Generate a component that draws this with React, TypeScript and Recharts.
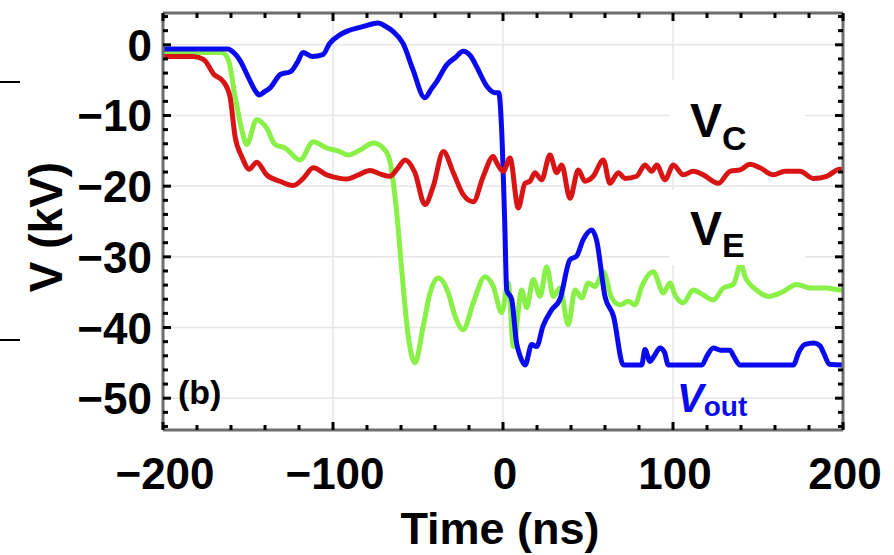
import { LineChart, Line, XAxis, YAxis, ReferenceLine } from 'recharts'

// Vout (blue)
const outTime = [
  -200, -180, -162, -158, -155, -150, -146, -143.5, -140, -137, -131, -125, -121, -117.6, -112, -106, -102,
  -96, -92, -82, -73.5, -69, -64.7, -58.8, -53, -46, -42, -39, -33, -28, -23.5, -19, -15.5, -9.4, -4.7,
  -2.5, -0.8, 1, 2.2, 5.1, 8, 10, 13, 16.9, 19.8, 23.5, 28.6, 33.5, 39.4, 43.3, 47.1, 52.2, 55, 60, 65,
  70.8, 81.6, 83.5, 86.5, 89, 92.4, 95, 97.2, 117, 120, 123.7, 128, 133.5, 136, 139.4, 170.8, 174, 177.6,
  183, 186.5, 189, 192, 200,
]
const outValues = [
  -0.6, -0.6, -0.6, -1.2, -2.1, -4.5, -6.4, -7.1, -6.6, -6.1, -4.2, -3.8, -2.5, -1.1, -1.65, -1.4, 0.2,
  1.4, 1.9, 2.6, 3.1, 2.6, 1.9, 0.2, -3.5, -7.5, -6.2, -5.2, -2.8, -1.8, -0.9, -1.6, -3.1, -5.9, -6.8,
  -6.8, -12, -25, -34.7, -36, -42.2, -44, -45.3, -42.4, -42.7, -39.8, -37.5, -36, -30.4, -29.9, -27.6,
  -26.2, -27.6, -35.6, -38.4, -45.3, -45.3, -43.1, -44.8, -44, -42.9, -43.5, -45.3, -45.3, -44, -42.9,
  -43.2, -43.2, -44.2, -45.3, -45.3, -43.5, -42.4, -42.2, -42.6, -43.8, -45.2, -45.3,
]

// VC (red)
const vcTime = [
  -200, -182, -176, -170, -164.5, -160.6, -157.6, -153.7, -149.2, -144.9, -139, -131.2, -123.4, -117.5,
  -111.6, -103.7, -96, -92, -85, -78.2, -72, -66.5, -62, -57.6, -51.8, -45.9, -41, -35.1, -29.2, -23.4,
  -17.5, -11.6, -5.7, -3.7, 0.2, 4.1, 9, 12.9, 15.9, 18.8, 22.7, 27.6, 31.6, 34.5, 39.4, 44.3, 48.2, 53.1,
  59, 62.9, 67.8, 71.8, 78.6, 83.5, 87.5, 90.4, 95.3, 100.2, 106, 111.9, 117.8, 126.6, 133.5, 139.4,
  145.3, 151.2, 159, 165.9, 174.7, 182.5, 190.4, 198.2, 200,
]
const vcValues = [
  -1.65, -1.65, -2.1, -4.2, -5.2, -7.3, -13, -15.8, -17.6, -16.6, -18.4, -19.3, -19.9, -18.9, -17.4,
  -18.4, -18.9, -19, -18.4, -17.8, -18.3, -18.6, -17.5, -16.3, -18.1, -22.6, -20, -15.1, -18.1, -21.2,
  -22.2, -18.6, -15.8, -16.7, -17.9, -16, -23.1, -19.6, -19.3, -18.1, -19.1, -15.6, -18.1, -17, -21.7,
  -17.7, -19.3, -18.6, -16.3, -19.6, -18.1, -18.9, -18.6, -17, -17.9, -17, -19.1, -17, -18.4, -17.9,
  -18.4, -19.6, -17.9, -17.7, -16.9, -17.4, -18.4, -17.9, -17.9, -18.9, -18.6, -17.6, -17.6,
]

// VE (green)
const veTime = [
  -200, -165.5, -161.6, -157.6, -153.7, -150.8, -144.9, -139, -134.1, -128.2, -119.4, -111.6, -103.7,
  -96, -91, -84.1, -76.3, -69.4, -66.5, -62.5, -59.6, -55.7, -51.8, -46.9, -42.9, -38, -32.2, -28.2,
  -23.4, -17.5, -10.6, -5.7, -0.8, 3.1, 6.1, 11, 13.9, 17.8, 21.8, 25.7, 29.6, 33.5, 38.4, 42.4, 46.3,
  50.2, 54.1, 59, 63.9, 68.8, 73.7, 77.6, 81.6, 88.4, 94.3, 98.2, 101.2, 106, 111.9, 117.8, 123.7, 129.6,
  135.5, 140, 142.4, 149.2, 156.1, 164.9, 172.8, 180.6, 190.4, 198.2, 200,
]
const veValues = [
  -1.1, -1.1, -2.1, -7.3, -12, -14.1, -10.6, -11.8, -14.1, -14.6, -16.3, -13.7, -14.6, -15.1, -15.6,
  -14.9, -13.9, -14.9, -16.5, -23.8, -31.8, -41.3, -45, -39.8, -35.1, -33, -35.1, -38.4, -40.3, -36.5,
  -32.8, -34.2, -37.9, -33.7, -42.7, -34.7, -37.2, -33.2, -35.6, -31.4, -35.6, -34.4, -39.6, -34.7,
  -35.8, -33.7, -34.2, -32.1, -35.8, -36.8, -36.3, -36.8, -34.2, -32.1, -35.1, -33.7, -35.4, -36.5,
  -34.7, -35.4, -36.1, -34.4, -33.9, -31, -32.8, -34.7, -35.6, -34.9, -33.9, -34.4, -34.4, -34.7, -34.7,
]

const xTicks = [-200, -180, -160, -140, -120, -100, -80, -60, -40, -20, 0, 20, 40, 60, 80, 100, 120, 140, 160, 180, 200]
const yTicks = [4, 2, 0, -2, -4, -6, -8, -10, -12, -14, -16, -18, -20, -22, -24, -26, -28, -30, -32, -34, -36, -38, -40, -42, -44, -46, -48, -50, -52, -54]
const xGrid = [-100, 0, 100]
const yGrid = [0, -10, -20, -30, -40, -50]

const outData = outTime.map((t, i) => ({ t, v: outValues[i] }))
const vcData = vcTime.map((t, i) => ({ t, v: vcValues[i] }))
const veData = veTime.map((t, i) => ({ t, v: veValues[i] }))

const FONT = '"Liberation Sans", Arial, sans-serif'
const FRAME = { stroke: '#6e6e6e', strokeWidth: 3 }
const fmt = (v: number) => (v < 0 ? '\u2212' + Math.abs(v) : String(v))

const BottomTick = ({ x, y, payload }: any) => {
  const major = payload.value % 100 === 0
  return (
    <g>
      <line x1={x} x2={x} y1={y} y2={y - (major ? 8 : 5)} stroke="#000" strokeWidth={3} />
      {major && (
        <text x={x + 2} y={y + 59} textAnchor="middle" fontSize={44} fontWeight="bold" fontFamily={FONT} fill="#000">
          {fmt(payload.value)}
        </text>
      )}
    </g>
  )
}

const TopTick = ({ x, y, payload }: any) => {
  const major = payload.value % 100 === 0
  return <line x1={x} x2={x} y1={y} y2={y + (major ? 8 : 5)} stroke="#000" strokeWidth={3} />
}

const LeftTick = ({ x, y, payload }: any) => {
  const major = payload.value % 10 === 0
  return (
    <g>
      <line x1={x} x2={x + (major ? 8 : 5)} y1={y} y2={y} stroke="#000" strokeWidth={3} />
      {major && (
        <text x={x - 11} y={y + 16} textAnchor="end" fontSize={44} fontWeight="bold" fontFamily={FONT} fill="#000">
          {fmt(payload.value)}
        </text>
      )}
    </g>
  )
}

const RightTick = ({ x, y, payload }: any) => {
  const major = payload.value % 10 === 0
  return <line x1={x} x2={x - (major ? 8 : 5)} y1={y} y2={y} stroke="#000" strokeWidth={3} />
}

export default function App() {
  return (
    <div style={{ position: 'absolute', left: 0, top: 0, width: 894, height: 555, background: '#fff' }}>
      <LineChart width={894} height={555} margin={{ top: 12, right: 50, bottom: 124, left: 162 }}>
        {xGrid.map((v) => (
          <ReferenceLine key={'x' + v} x={v} stroke="#e6e6e6" strokeWidth={1.5} />
        ))}
        {yGrid.map((v) => (
          <ReferenceLine key={'y' + v} y={v} stroke="#e6e6e6" strokeWidth={1.5} />
        ))}
        <XAxis type="number" dataKey="t" domain={[-200, 200]} ticks={xTicks} interval={0} height={1}
          tickSize={0} tickMargin={0} tickLine={false} axisLine={FRAME} tick={BottomTick} allowDataOverflow />
        <XAxis xAxisId="top" orientation="top" type="number" dataKey="t" domain={[-200, 200]} ticks={xTicks}
          interval={0} height={1} tickSize={0} tickMargin={0} tickLine={false} axisLine={FRAME} tick={TopTick} allowDataOverflow />
        <YAxis type="number" domain={[-54.5, 4.5]} ticks={yTicks} interval={0} width={1} tickSize={0} tickMargin={0}
          tickLine={false} axisLine={FRAME} tick={LeftTick} allowDataOverflow />
        <YAxis yAxisId="right" orientation="right" type="number" domain={[-54.5, 4.5]} ticks={yTicks}
          interval={0} width={1} tickSize={0} tickMargin={0} tickLine={false} axisLine={FRAME} tick={RightTick} allowDataOverflow />
        <Line data={veData} dataKey="v" type="monotone" stroke="#88f046" strokeWidth={5} dot={false} isAnimationActive={false} />
        <Line data={outData} dataKey="v" type="monotone" stroke="#0a0af0" strokeWidth={5} dot={false} isAnimationActive={false} />
        <Line data={vcData} dataKey="v" type="monotone" stroke="#d81414" strokeWidth={5} dot={false} isAnimationActive={false} />
      </LineChart>
      <svg width={894} height={555} style={{ position: 'absolute', left: 0, top: 0, pointerEvents: 'none' }}
        fontFamily={FONT} fontWeight="bold">
        <rect x={670} y={80} width={135} height={80} fill="#fff" />
        <rect x={670} y={190} width={135} height={75} fill="#fff" />
        <text x={690} y={137} fontSize={48} fill="#000">
          V<tspan fontSize={34} dy={13}>C</tspan>
        </text>
        <text x={690} y={245} fontSize={48} fill="#000">
          V<tspan fontSize={34} dy={12}>E</tspan>
        </text>
        <text x={677} y={412} fontSize={40} fill="#0a0af0">
          <tspan fontStyle="italic">V</tspan>
          <tspan fontSize={28} dy={4}>out</tspan>
        </text>
        <text x={178} y={404} fontSize={34} fill="#000">(b)</text>
        <text x={500} y={544} fontSize={45} textAnchor="middle" fill="#000">Time (ns)</text>
        <text transform="translate(62 227) rotate(-90)" fontSize={46} textAnchor="middle" fill="#000">V (kV)</text>
        <line x1={0} x2={20} y1={82} y2={82} stroke="#000" strokeWidth={2} />
        <line x1={0} x2={20} y1={340} y2={340} stroke="#000" strokeWidth={2} />
      </svg>
    </div>
  )
}
